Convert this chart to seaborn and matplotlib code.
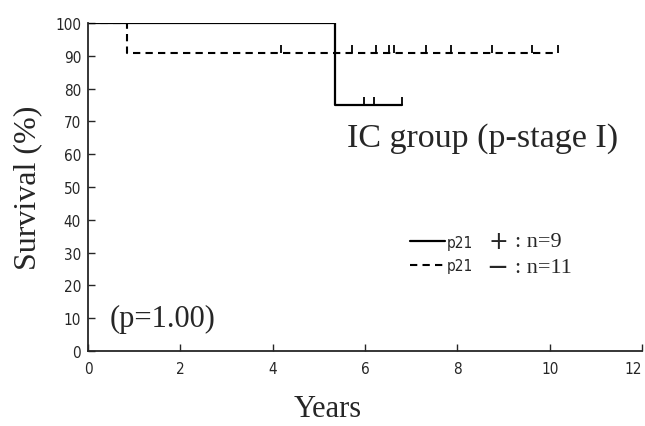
import numpy as np
import pandas as pd
import matplotlib
matplotlib.use("Agg")
import matplotlib.pyplot as plt
import seaborn as sns
from matplotlib.lines import Line2D

# Kaplan-Meier steps (time in years, survival in %)
pos_times = [0.0, 5.36, 6.80]
pos_surv = [100.0, 75.0, 75.0]
pos_censor = [5.98, 6.20, 6.80]

neg_times = [0.0, 0.84, 10.17]
neg_surv = [100.0, 90.9, 90.9]
neg_censor = [4.17, 5.72, 6.24, 6.52, 6.63, 7.32, 7.87, 8.75, 9.62, 10.17]

x_ticks = [0, 2, 4, 6, 8, 10, 12]
y_ticks = [0, 10, 20, 30, 40, 50, 60, 70, 80, 90, 100]

sns.set_style("ticks")
serif = "Liberation Serif"
sans = "DejaVu Sans"

fig = plt.figure(figsize=(6.45, 4.27), dpi=100)
ax = fig.add_axes([0.1364, 0.1756, 0.859, 0.768])

pos = pd.DataFrame({"t": pos_times, "s": pos_surv})
neg = pd.DataFrame({"t": neg_times, "s": neg_surv})
sns.lineplot(data=neg, x="t", y="s", drawstyle="steps-post", color="black",
             linestyle=(0, (3.5, 2.5)), linewidth=1.5, ax=ax)
sns.lineplot(data=pos, x="t", y="s", drawstyle="steps-post", color="black",
             linewidth=1.6, ax=ax)

# censor ticks pointing upward from the curve
up = [(0, 0), (0, 1)]
pos_c = pd.DataFrame({"t": pos_censor,
                      "s": np.interp(pos_censor, pos_times, pos_surv)})
neg_c = pd.DataFrame({"t": neg_censor, "s": [neg_surv[-1]] * len(neg_censor)})
for d in (pos_c, neg_c):
    sns.scatterplot(data=d, x="t", y="s", marker=up, s=130, color="black",
                    edgecolor="black", linewidth=1.3, ax=ax, zorder=3)

ax.set_xlim(0, 12)
ax.set_ylim(0, 100)
ax.set_xticks(x_ticks)
ax.set_yticks(y_ticks)
ax.tick_params(direction="in", length=5, width=1, labelsize=11)
ax.tick_params(axis="x", pad=7)
ax.tick_params(axis="y", pad=5)
for lab in ax.get_xticklabels() + ax.get_yticklabels():
    lab.set_family(sans)
    lab.set_stretch("condensed")
# last x label sits at the right edge of the figure
ax.get_xticklabels()[-1].set_horizontalalignment("right")
sns.despine(ax=ax)
for sp in ("left", "bottom"):
    ax.spines[sp].set_linewidth(1.3)

ax.set_xlabel("Years", family=serif, fontsize=22, labelpad=13, x=0.433)
ax.set_ylabel("Survival (%)", family=serif, fontsize=23, labelpad=9)

ax.text(5.6, 65, "IC group (p-stage I)", family=serif, fontsize=24.5, va="center")
ax.text(0.47, 9.8, "(p=1.00)", family=serif, fontsize=22, va="center")

handles = [Line2D([], [], color="black", linewidth=1.6),
           Line2D([], [], color="black", linewidth=1.5, linestyle=(0, (3.5, 2.5)))]
ax.legend(handles, ["p21", "p21"], frameon=False, loc="center left",
          bbox_to_anchor=(6.97, 29.6), bbox_transform=ax.transData,
          borderpad=0, borderaxespad=0, handlelength=2.3, handletextpad=0.15,
          labelspacing=0.55, prop={"family": sans, "size": 11, "stretch": "condensed"})
ax.text(8.68, 33.5, "+", family=sans, fontsize=17, va="center")
ax.text(8.62, 25.6, "\u2212", family=sans, fontsize=19, va="center")
ax.text(9.25, 33.5, ": n=9", family=serif, fontsize=16, va="center")
ax.text(9.25, 25.6, ": n=11", family=serif, fontsize=16, va="center")

fig.savefig("out.png", dpi=100)
